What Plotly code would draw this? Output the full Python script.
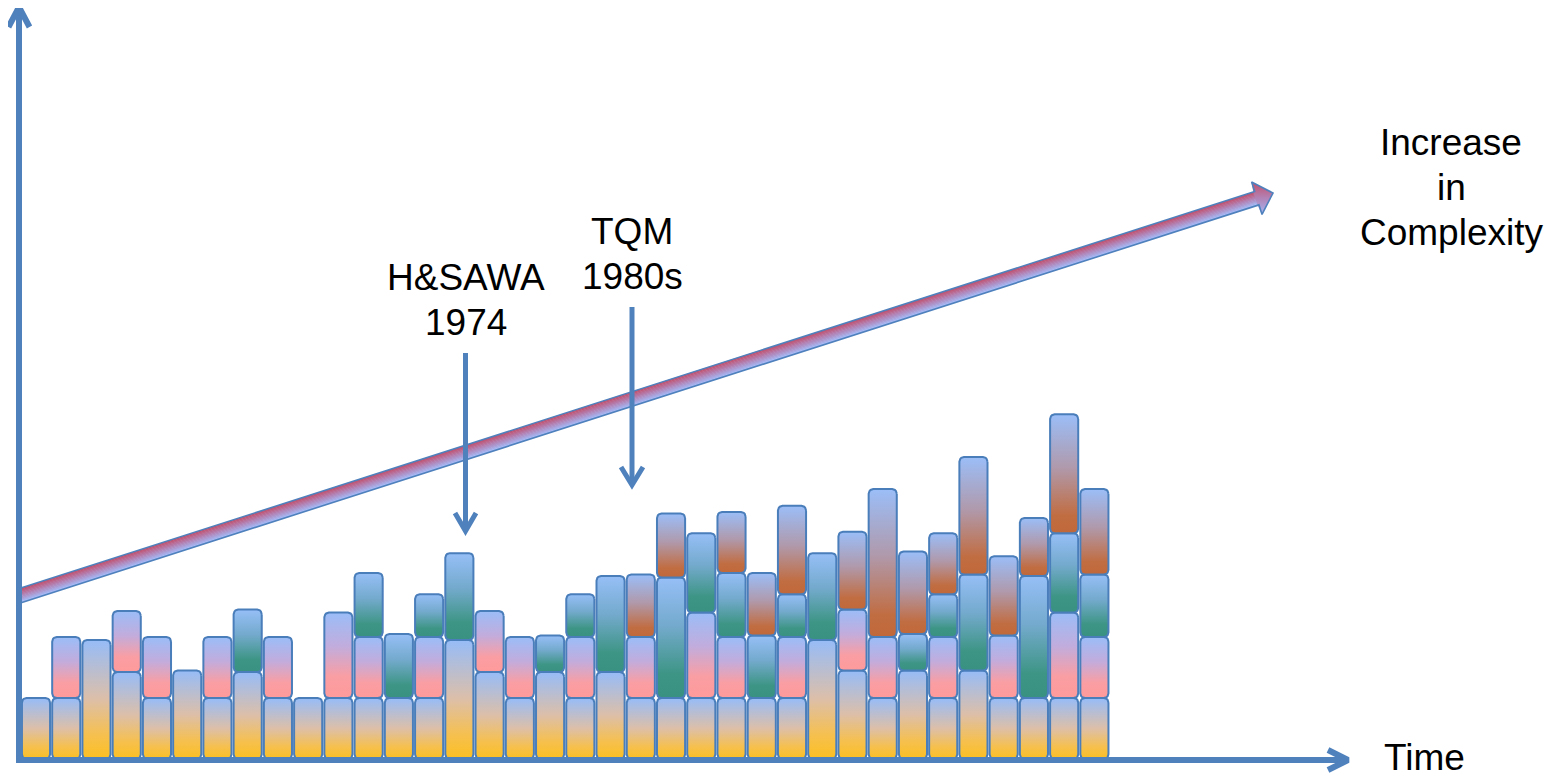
import numpy as np
import plotly.graph_objects as go

W, H = 1568, 780
OFF = 8  # page body margin in the browser

# ---------------- data (stack heights per period, bottom -> top) ----------------
periods = list(range(1, 37))
seg_A = [2, 2, 3.9, 2.85, 2, 2.9, 2, 2.85, 2, 2,
         2, 2, 2, 2, 3.9, 2.85, 2, 2.85, 2, 2.85,
         2, 2, 2, 2, 2, 2, 3.9, 2.9, 2, 2.9,
         2, 2.9, 2, 2, 2, 2]
seg_B = [0, 2, 0, 2, 2, 0, 2, 0, 2, 0,
         2.8, 2, 0, 2, 0, 2, 2, 0, 2, 0,
         2, 0, 2.8, 2, 0, 2, 0, 2, 2, 0,
         2, 0, 2.05, 0, 2.8, 2]
seg_C = [0, 0, 0, 0, 0, 0, 0, 2.05, 0, 0,
         0, 2.1, 2.1, 1.4, 2.85, 0, 0, 1.2, 1.4, 3.15,
         0, 3.95, 2.6, 2.1, 2.05, 1.4, 2.85, 0, 0, 1.2,
         1.4, 3.15, 0, 4.0, 2.6, 2.05]
seg_D = [0, 0, 0, 0, 0, 0, 0, 0, 0, 0,
         0, 0, 0, 0, 0, 0, 0, 0, 0, 0,
         2.05, 2.1, 0, 2.0, 2.05, 2.9, 0, 2.55, 4.85, 2.7,
         2.0, 3.85, 2.6, 1.9, 3.9, 2.8]

time_label = ["Time"]
complexity_label = ["Increase", "in", "Complexity"]
event_hsawa = ["H&SAWA", "1974"]
event_tqm = ["TQM", "1980s"]

# ---------------- styles ----------------
scales = {
    "A": [[0, "#fcbf22"], [0.2, "#f6c04e"], [0.5, "#ddbfa8"], [1, "#96bcf8"]],
    "B": [[0, "#fe9a9b"], [0.25, "#fa9ea3"], [0.6, "#c2acdc"], [1, "#9bbdf8"]],
    "C": [[0, "#389181"], [0.2, "#3d9585"], [0.6, "#74aacd"], [1, "#96bff7"]],
    "D": [[0, "#c0683a"], [0.15, "#c16d42"], [0.55, "#b099ab"], [1, "#9bbef8"]],
}
BORDER = "#4a7ebb"
ARROW = "#4f81bd"
BAR_W = 0.93
RX, RY = 0.15, 0.15

X0_PX, DX_PX = 36.0, 30.24     # first bar centre and spacing (screen px)
BASE_PX, DY_PX = 759.0, 30.5   # baseline and pixels per unit (screen px)
x_range = [(OFF - X0_PX) / DX_PX, (W - X0_PX) / DX_PX]
y_range = [(BASE_PX - H) / DY_PX, (BASE_PX - OFF) / DY_PX]


def rounded_rect(x0, x1, y0, y1, rx, ry, n=6):
    xs, ys = [], []
    corners = [(x1 - rx, y1 - ry, 0, 90), (x0 + rx, y1 - ry, 90, 180),
               (x0 + rx, y0 + ry, 180, 270), (x1 - rx, y0 + ry, 270, 360)]
    for cx, cy, a0, a1 in corners:
        for t in np.linspace(np.radians(a0), np.radians(a1), n):
            xs.append(cx + rx * np.cos(t))
            ys.append(cy + ry * np.sin(t))
    xs.append(xs[0])
    ys.append(ys[0])
    return xs, ys


fig = go.Figure()

series = [("A", seg_A), ("B", seg_B), ("C", seg_C), ("D", seg_D)]
for i, p in enumerate(periods):
    base = 0.0
    xc = i
    for name, vals in series:
        v = vals[i]
        if v <= 0:
            continue
        xs, ys = rounded_rect(xc - BAR_W / 2, xc + BAR_W / 2, base, base + v, RX, RY)
        fig.add_trace(go.Scatter(
            x=xs, y=ys, mode="lines", fill="toself",
            line=dict(color=BORDER, width=2),
            fillgradient=dict(type="vertical", colorscale=scales[name],
                              start=base, stop=base + v),
            hoverinfo="skip", showlegend=False, xaxis="x", yaxis="y"))
        base += v

# ---------------- decorations in screen-pixel space (overlay axes) ----------------
def px_line(xs, ys, color=ARROW, width=6):
    fig.add_trace(go.Scatter(x=xs, y=ys, mode="lines",
                             line=dict(color=color, width=width),
                             hoverinfo="skip", showlegend=False,
                             xaxis="x2", yaxis="y2"))

# diagonal "complexity" arrow
P0 = np.array([19.0, 596.0])
TIP = np.array([1273.0, 193.0])
u = (TIP - P0) / np.linalg.norm(TIP - P0)
nrm = np.array([u[1], -u[0]])
if nrm[1] > 0:
    nrm = -nrm  # points up on screen
HALF, HEAD_L, HEAD_HW = 7.0, 17.0, 17.0
B = TIP - HEAD_L * u


def mix(c1, c2, t):
    a = [int(c1[k:k + 2], 16) for k in (1, 3, 5)]
    b = [int(c2[k:k + 2], 16) for k in (1, 3, 5)]
    return "rgb(%d,%d,%d)" % tuple(round(a[j] + (b[j] - a[j]) * t) for j in range(3))


stops = ["#c24f6b", "#b283b6", "#a4b8f4"]
offs = np.linspace(-6.2, 6.2, 11)
for k, off in enumerate(offs):
    t = k / (len(offs) - 1)
    col = mix(stops[0], stops[1], t * 2) if t < 0.5 else mix(stops[1], stops[2], (t - 0.5) * 2)
    a = P0 + off * (-nrm)
    b = B + off * (-nrm)
    px_line([a[0], b[0]], [a[1], b[1]], color=col, width=1.8)

ub = B + HEAD_HW * nrm
lb = B - HEAD_HW * nrm
head_xs = [B[0] + HALF * nrm[0] - 1.5 * u[0], ub[0], TIP[0], lb[0], B[0] - HALF * nrm[0] - 1.5 * u[0]]
head_ys = [B[1] + HALF * nrm[1] - 1.5 * u[1], ub[1], TIP[1], lb[1], B[1] - HALF * nrm[1] - 1.5 * u[1]]
fig.add_trace(go.Scatter(
    x=head_xs + [head_xs[0]], y=head_ys + [head_ys[0]], mode="lines", fill="toself",
    line=dict(width=0, color="rgba(0,0,0,0)"),
    fillgradient=dict(type="vertical",
                      colorscale=[[0, "#c24f6b"], [0.5, "#b283b6"], [1, "#a4b8f4"]],
                      start=min(head_ys), stop=max(head_ys)),
    hoverinfo="skip", showlegend=False, xaxis="x2", yaxis="y2"))

top0, bot0 = P0 + HALF * nrm, P0 - HALF * nrm
topB, botB = B + HALF * nrm, B - HALF * nrm
outline = [top0, topB, ub, TIP, lb, botB, bot0, top0]
px_line([p[0] for p in outline], [p[1] for p in outline], color=ARROW, width=1.6)

# axes arrows
px_line([19, 19], [763, 10])
px_line([8.5, 19, 29.5], [27, 7, 27])
px_line([16, 1345], [760, 760])
px_line([1328, 1348, 1328], [750, 760, 770])

# event arrows
px_line([465.5, 465.5], [353, 529], width=5)
px_line([455, 465.5, 476], [513, 531, 513], width=5)
px_line([632, 632], [307, 483], width=5)
px_line([621, 632, 643], [467, 485, 467], width=5)

FONT = dict(family="Liberation Sans, Arial, sans-serif", size=37, color="black")
LINE_GAP = 45
blocks = [
    (time_label, 1424, 757),
    (complexity_label, 1451, 142),
    (event_hsawa, 466, 277),
    (event_tqm, 632, 231),
]
anns = []
for lines, x, y0 in blocks:
    for j, txt in enumerate(lines):
        anns.append(dict(text=txt, x=x, y=y0 + j * LINE_GAP, xref="x2", yref="y2",
                         showarrow=False, xanchor="center", yanchor="middle",
                         align="center", font=FONT))
fig.update_layout(annotations=anns)

fig.update_layout(
    width=W - OFF, height=H - OFF, autosize=False,
    margin=dict(l=0, r=0, t=0, b=0, pad=0),
    paper_bgcolor="white", plot_bgcolor="white",
    xaxis=dict(range=x_range, visible=False, fixedrange=True, domain=[0, 1]),
    yaxis=dict(range=y_range, visible=False, fixedrange=True, domain=[0, 1]),
    xaxis2=dict(range=[OFF, W], visible=False, overlaying="x", fixedrange=True),
    yaxis2=dict(range=[H, OFF], visible=False, overlaying="y", fixedrange=True),
    showlegend=False,
)

fig.write_html("out.html")
